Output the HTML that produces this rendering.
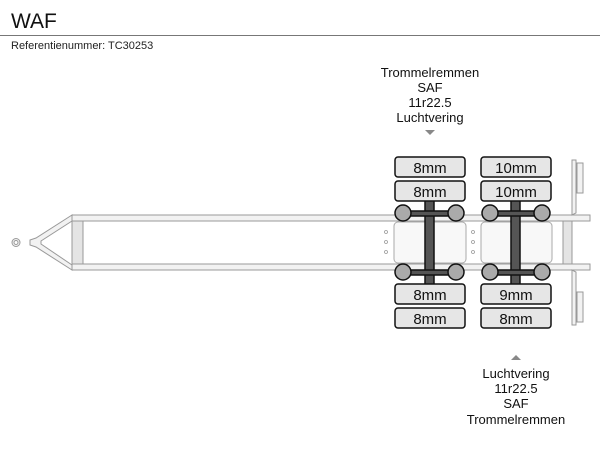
<!DOCTYPE html>
<html><head><style>body{margin:0;background:#fff}svg{display:block}</style></head><body>
<svg width="600" height="450" xmlns="http://www.w3.org/2000/svg" font-family="Liberation Sans, Arial, sans-serif">
<text x="11" y="28" font-size="21" fill="#111">WAF</text>
<line x1="0" y1="35.5" x2="600" y2="35.5" stroke="#777" stroke-width="1"/>
<text x="11" y="49" font-size="11" fill="#222">Referentienummer: TC30253</text>

<g font-size="13" fill="#111" text-anchor="middle">
<text x="430" y="77">Trommelremmen</text>
<text x="430" y="92">SAF</text>
<text x="430" y="107">11r22.5</text>
<text x="430" y="122">Luchtvering</text>
<text x="516" y="378">Luchtvering</text>
<text x="516" y="393">11r22.5</text>
<text x="516" y="408">SAF</text>
<text x="516" y="424">Trommelremmen</text>
</g>
<polygon points="425,130 435,130 430,135" fill="#888"/>
<polygon points="511,360 521,360 516,355" fill="#888"/>

<!-- drawbar -->
<g fill="#f2f2f2" stroke="#999" stroke-width="1">
<path d="M72,215 L36,238 L30,240 L30,245 L36,247 L72,270 L72,265 L41,244 L41,241 L72,221 Z"/>
<circle cx="16" cy="242.5" r="4"/>
<circle cx="16" cy="242.5" r="2" fill="#fff"/>
<!-- rails -->
<rect x="72" y="215" width="518" height="6"/>
<rect x="72" y="264" width="518" height="6"/>
<rect x="72" y="221" width="11" height="43" fill="#e4e4e4"/>
<rect x="563" y="221" width="9" height="43" fill="#e4e4e4"/>
<!-- panels -->
<rect x="394" y="222" width="72" height="41" rx="4" fill="#f8f8f8" stroke="#aaa"/>
<rect x="481" y="222" width="71" height="41" rx="4" fill="#f8f8f8" stroke="#aaa"/>
<!-- bumper -->
<path d="M572,160 H576 V213 L572,215 Z M572,270 L576,272 V325 H572 Z"/>
<rect x="577" y="163" width="6" height="30"/>
<rect x="577" y="292" width="6" height="30"/>
</g>
<g fill="none" stroke="#999" stroke-width="0.8">
<circle cx="386" cy="232" r="1.5"/><circle cx="386" cy="242" r="1.5"/><circle cx="386" cy="252" r="1.5"/>
<circle cx="473" cy="232" r="1.5"/><circle cx="473" cy="242" r="1.5"/><circle cx="473" cy="252" r="1.5"/>
</g>

<!-- axles -->
<g stroke="#111" stroke-width="1.5">
<rect x="425" y="197" width="9" height="90" fill="#555"/>
<rect x="511" y="197" width="9" height="90" fill="#555"/>
<rect x="403" y="211" width="53" height="5" fill="#555"/>
<rect x="403" y="270" width="53" height="5" fill="#555"/>
<rect x="490" y="211" width="52" height="5" fill="#555"/>
<rect x="490" y="270" width="52" height="5" fill="#555"/>
<g fill="#aaa">
<circle cx="403" cy="213" r="8"/><circle cx="456" cy="213" r="8"/>
<circle cx="403" cy="272" r="8"/><circle cx="456" cy="272" r="8"/>
<circle cx="490" cy="213" r="8"/><circle cx="542" cy="213" r="8"/>
<circle cx="490" cy="272" r="8"/><circle cx="542" cy="272" r="8"/>
</g>
<g fill="#e6e6e6">
<rect x="395" y="157" width="70" height="20" rx="3"/>
<rect x="395" y="181" width="70" height="20" rx="3"/>
<rect x="395" y="284" width="70" height="20" rx="3"/>
<rect x="395" y="308" width="70" height="20" rx="3"/>
<rect x="481" y="157" width="70" height="20" rx="3"/>
<rect x="481" y="181" width="70" height="20" rx="3"/>
<rect x="481" y="284" width="70" height="20" rx="3"/>
<rect x="481" y="308" width="70" height="20" rx="3"/>
</g>
</g>
<g font-size="15" fill="#111" text-anchor="middle">
<text x="430" y="173">8mm</text>
<text x="430" y="197">8mm</text>
<text x="430" y="300">8mm</text>
<text x="430" y="324">8mm</text>
<text x="516" y="173">10mm</text>
<text x="516" y="197">10mm</text>
<text x="516" y="300">9mm</text>
<text x="516" y="324">8mm</text>
</g>
</svg>
</body></html>
